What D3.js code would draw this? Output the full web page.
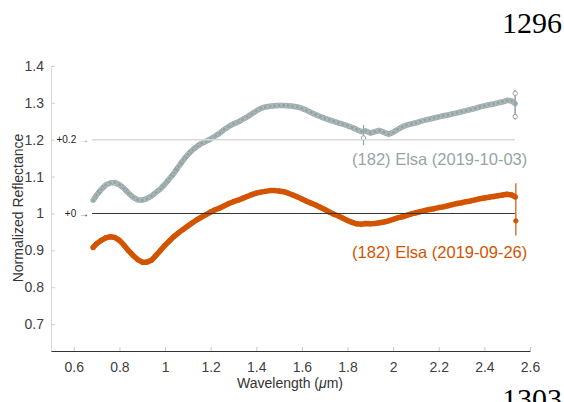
<!DOCTYPE html>
<html><head><meta charset="utf-8">
<script src="https://cdn.jsdelivr.net/npm/d3@7"></script>
<style>
body{margin:0;background:#fff}
svg{display:block}
</style>
</head><body>
<svg id="chart" width="564" height="402"></svg>
<script>
// ---- data ----
const wavelengths = [0.685,0.70,0.72,0.74,0.76,0.78,0.80,0.82,0.84,0.86,0.88,0.90,0.92,0.94,0.96,0.98,
  1.00,1.02,1.04,1.06,1.08,1.10,1.12,1.14,1.16,1.18,1.20,1.22,1.24,1.26,1.28,1.30,1.32,1.34,1.36,1.38,
  1.40,1.42,1.44,1.46,1.48,1.50,1.52,1.54,1.56,1.58,1.60,1.62,1.64,1.66,1.68,1.70,1.72,1.74,1.76,1.78,
  1.80,1.82,1.84,1.86,1.88,1.90,1.92,1.94,1.96,1.98,2.00,2.02,2.04,2.06,2.08,2.10,2.12,2.14,2.16,2.18,
  2.20,2.22,2.24,2.26,2.28,2.30,2.32,2.34,2.36,2.38,2.40,2.42,2.44,2.46,2.48,2.50,2.52,2.535];

// (182) Elsa 2019-10-03, plotted with +0.2 offset (values as shown)
const elsa20191003 = [1.036,1.050,1.065,1.077,1.083,1.084,1.078,1.068,1.055,1.044,1.037,1.036,1.040,1.047,1.057,1.067,
  1.080,1.095,1.110,1.128,1.145,1.160,1.172,1.182,1.190,1.196,1.202,1.210,1.218,1.228,1.236,1.243,1.248,1.255,1.262,1.270,
  1.278,1.285,1.289,1.291,1.292,1.293,1.293,1.292,1.291,1.289,1.285,1.280,1.274,1.268,1.263,1.258,1.254,1.250,1.246,1.242,
  1.238,1.233,1.228,1.222,1.224,1.218,1.222,1.225,1.220,1.215,1.220,1.228,1.235,1.240,1.243,1.246,1.250,1.253,1.256,1.259,
  1.262,1.265,1.267,1.270,1.273,1.276,1.279,1.282,1.285,1.289,1.292,1.295,1.297,1.300,1.303,1.307,1.305,1.298];

// (182) Elsa 2019-09-26, +0 offset
const elsa20190926 = [0.908,0.918,0.927,0.934,0.937,0.935,0.927,0.914,0.899,0.886,0.875,0.868,0.868,0.873,0.886,0.900,
  0.914,0.926,0.938,0.948,0.957,0.966,0.975,0.983,0.990,0.997,1.004,1.010,1.015,1.021,1.027,1.032,1.036,1.041,1.046,1.051,
  1.055,1.058,1.060,1.062,1.062,1.061,1.059,1.055,1.050,1.045,1.039,1.033,1.028,1.023,1.017,1.011,1.004,0.998,0.993,0.987,
  0.981,0.976,0.972,0.971,0.973,0.972,0.973,0.975,0.977,0.980,0.984,0.988,0.991,0.995,0.999,1.002,1.005,1.008,1.011,1.013,
  1.016,1.018,1.021,1.024,1.027,1.029,1.032,1.034,1.037,1.040,1.042,1.044,1.046,1.048,1.050,1.052,1.050,1.045];

// error bars / outlier points
const errGrayX = [1.87, 2.535, 2.535];
const errGrayY = [1.205, 1.326, 1.263];
const errGrayLo = [1.185, 1.255, 1.255];
const errGrayHi = [1.240, 1.335, 1.335];
const errOrangeX = [2.538];
const errOrangeY = [0.980];
const errOrangeLo = [0.940];
const errOrangeHi = [1.082];

const offsets = [0.2, 0];
const offsetLabels = ["+0.2", "+0"];
const seriesLabels = ["(182) Elsa (2019-10-03)", "(182) Elsa (2019-09-26)"];
const xTicks = [0.6,0.8,1.0,1.2,1.4,1.6,1.8,2.0,2.2,2.4,2.6];
const yTicks = [0.7,0.8,0.9,1.0,1.1,1.2,1.3,1.4];
const pageNumbers = ["1296", "1303"];

// ---- drawing ----
const SANS = "Arial, 'Liberation Sans', sans-serif";
const SERIF = "'Liberation Serif', 'Times New Roman', serif";
const svg = d3.select("#chart").style("font-family", SANS);
const x = d3.scaleLinear().domain([0.5, 2.6]).range([51, 530]);
const y = d3.scaleLinear().domain([0.627, 1.4]).range([351, 66]);
const GRAY = "#95a5a6", ORANGE = "#d35400";
const fmt = d => String(+d.toFixed(1));

// axes
const yAxis = svg.append("g").attr("transform", "translate(51,0)")
  .call(d3.axisLeft(y).tickValues(yTicks).tickFormat(fmt).tickSizeInner(-4).tickSizeOuter(0).tickPadding(7));
yAxis.select(".domain").attr("stroke", "#d9d9d9");
yAxis.selectAll(".tick line").attr("stroke", "#d0d0d0");
yAxis.selectAll(".tick text").attr("font-size", 14).attr("fill", "#404040").style("font-family", SANS);

const xAxis = svg.append("g").attr("transform", "translate(0,351)")
  .call(d3.axisBottom(x).tickValues(xTicks).tickFormat(fmt).tickSizeInner(-4).tickSizeOuter(0).tickPadding(11));
xAxis.select(".domain").attr("stroke", "#333").attr("stroke-width", 1.2);
xAxis.selectAll(".tick line").attr("stroke", "#c8c8c8");
xAxis.selectAll(".tick text").attr("font-size", 14).attr("fill", "#404040").style("font-family", SANS);

// axis titles
svg.append("text").attr("transform", "translate(22.5,208) rotate(-90)")
  .attr("text-anchor", "middle").attr("font-size", 14).attr("fill", "#333").text("Normalized Reflectance");
const xl = svg.append("text").attr("x", 290).attr("y", 388).attr("text-anchor", "middle")
  .attr("font-size", 14).attr("fill", "#333");
xl.append("tspan").text("Wavelength (");
xl.append("tspan").attr("font-style", "italic").text("μ");
xl.append("tspan").text("m)");

// series
const line = d3.line().x((d, i) => x(wavelengths[i])).y(d => y(d));
function drawSeries(vals, color, open, ex, ey, elo, ehi) {
  const g = svg.append("g");
  g.append("path").datum(vals).attr("d", line).attr("fill", "none")
    .attr("stroke", color).attr("stroke-width", 5.5).attr("stroke-linejoin", "round").attr("stroke-linecap", "round");
  g.selectAll("circle.p").data(vals).join("circle").attr("class", "p")
    .attr("cx", (d, i) => x(wavelengths[i])).attr("cy", d => y(d)).attr("r", 2.2)
    .attr("fill", open ? "none" : color).attr("stroke", open ? "#b7c3c4" : color).attr("stroke-width", 0.8);
  g.selectAll("line.e").data(ex).join("line").attr("class", "e")
    .attr("x1", d => x(d)).attr("x2", d => x(d))
    .attr("y1", (d, i) => y(elo[i])).attr("y2", (d, i) => y(ehi[i]))
    .attr("stroke", color).attr("stroke-width", 1.2);
  g.selectAll("circle.e").data(ex).join("circle").attr("class", "e")
    .attr("cx", d => x(d)).attr("cy", (d, i) => y(ey[i])).attr("r", 2.2)
    .attr("fill", open ? "#fff" : color).attr("stroke", color).attr("stroke-width", 1);
}
drawSeries(elsa20191003, GRAY, true, errGrayX, errGrayY, errGrayLo, errGrayHi);
drawSeries(elsa20190926, ORANGE, false, errOrangeX, errOrangeY, errOrangeLo, errOrangeHi);

// offset baselines
const lineColors = ["#d9d9d9", "#333"];
offsets.forEach((o, k) => {
  svg.append("line").attr("x1", x(0.68)).attr("x2", x(2.534))
    .attr("y1", y(1 + o)).attr("y2", y(1 + o))
    .attr("stroke", lineColors[k]).attr("stroke-width", k ? 1 : 1.5);
  const t = svg.append("text").attr("x", 89).attr("y", y(1 + o)).attr("dy", "0.35em")
    .attr("text-anchor", "end").attr("font-size", 10).attr("fill", "#222");
  t.append("tspan").text(offsetLabels[k] + " ");
  t.append("tspan").attr("fill", k ? "#222" : "#999").text("→");
});

// series labels
svg.append("text").attr("x", x(2.588)).attr("y", y(1.131)).attr("text-anchor", "end")
  .attr("font-size", 16.5).attr("fill", GRAY).text(seriesLabels[0]);
svg.append("text").attr("x", x(2.588)).attr("y", y(0.880)).attr("text-anchor", "end")
  .attr("font-size", 16.5).attr("fill", ORANGE).text(seriesLabels[1]);

// page numbers
svg.append("text").attr("x", 562).attr("y", 33).attr("text-anchor", "end")
  .style("font-family", SERIF).attr("font-size", 30).attr("fill", "#000").text(pageNumbers[0]);
svg.append("text").attr("x", 562).attr("y", 409).attr("text-anchor", "end")
  .style("font-family", SERIF).attr("font-size", 30).attr("fill", "#000").text(pageNumbers[1]);
</script>
</body></html>
